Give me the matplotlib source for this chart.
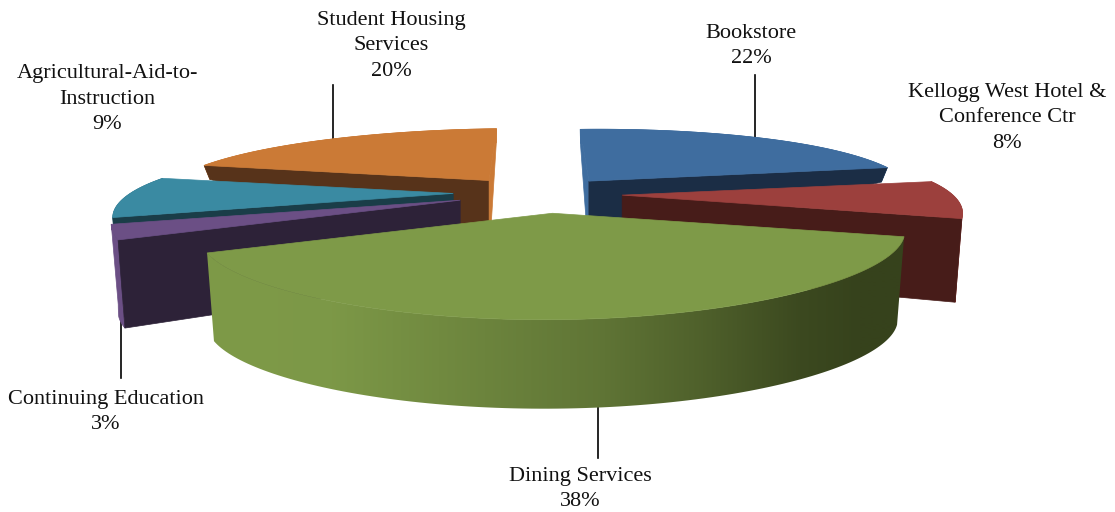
import matplotlib
matplotlib.use("Agg")
import matplotlib.pyplot as plt
import numpy as np
from matplotlib.colors import to_rgb
from matplotlib.patches import Polygon

plt.rcParams['font.family'] = ['Liberation Serif', 'DejaVu Serif']

# data
categories = ["Bookstore", "Kellogg West Hotel &\nConference Ctr", "Dining Services",
              "Continuing Education", "Agricultural-Aid-to-\nInstruction", "Student Housing\nServices"]
shares = [22, 8, 38, 3, 9, 20]

# style, same order as the data
top_colors = ['#3f6d9f', '#9c403d', '#7e9a48', '#6b4f85', '#3a8aa2', '#cb7a36']
dark_colors = ['#1b2d45', '#471c19', '#36421c', '#2d2238', '#1a3d48', '#57331a']
arc_colors = ['#3f6d9f', '#9c403d', None, '#6b4f85', '#2e6f83', '#cb7a36']
radius_scale = [0.97, 1.005, 1.04, 1.03, 1.005, 0.985]
depth_scale = [1, 0.95, 1, 1, 1, 1]
nudge_x = [4, 5, 12, 4, 0, 0]
draw_order = [5, 0, 4, 1, 3, 2]
label_xy = [(751, 46), (1007, 118), (580, 489), (106, 412), (107, 99), (391, 46)]
leaders = [((755, 75), (755, 145)), ((598, 400), (598, 458)),
           ((121, 315), (121, 378)), ((333, 85), (333, 145))]

# camera of the pie, in pixels
cx, cy = 535, 194
rad_x, rad_y = 328, 71
persp_x, persp_y = 0.25, 0.32
explode = 0.25
apex_depth = 77
bottom_shrink = 0.98


def project(deg, r=1.0):
    a = np.radians(deg)
    u, v = r * np.sin(a), r * np.cos(a)
    return rad_x * u / (1 + persp_x * v), -rad_y * v / (1 + persp_y * v)


def rim(apex, deg, scale):
    # top edge of a slice, the back corners lean to the middle of the pie
    a = np.radians(deg)
    u, v = np.sin(a), np.cos(a)
    ox, oy = project(deg)
    lean = 0.8 * (apex[0] - cx) * (1 / (1 + persp_x * v) - 1) * np.clip(v, 0, 1) ** 2
    return ox * scale + lean, oy + 2 - 3 * u


def arc_depth(deg):
    return np.interp(np.cos(np.radians(deg)), [-1, -0.3, 0.19, 1], [89, 88, 14, 14])


def lit_shade(x):
    # the dining side gets darker to the right
    mix = np.interp(x, [208, 330, 600, 700, 800, 860], [0, 0.02, 0.42, 0.65, 0.92, 1])
    a, b = np.array(to_rgb(top_colors[2])), np.array(to_rgb(dark_colors[2]))
    return a[None, :] + (b - a)[None, :] * mix[:, None]


def cut_face(ax, apex, deg, scale, deep, color, z):
    ox, oy = rim(apex, deg, scale)
    d = arc_depth(deg) * deep
    pts = [(apex[0] + ox, apex[1] + oy), apex, (apex[0], apex[1] + apex_depth),
           (apex[0] + ox * bottom_shrink, apex[1] + oy + d)]
    ax.add_patch(Polygon(pts, closed=True, fc=color, ec=color, lw=0.5, zorder=z))


fig = plt.figure(figsize=(11.15, 5.12), dpi=100, facecolor='white')
ax = fig.add_axes([0, 0, 1, 1])

for start, end in leaders:
    ax.plot([start[0], end[0]], [start[1], end[1]], color='black', lw=1.2, zorder=1)

edges = np.concatenate([[0], np.cumsum(shares)]) * 3.6

for rank, i in enumerate(draw_order):
    z = 2 + rank
    t0, t1 = edges[i], edges[i + 1]
    ex, ey = project((t0 + t1) / 2, explode)
    apex = (cx + ex + nudge_x[i], cy + ey)
    ts = np.linspace(t0, t1, 120)
    ox, oy = rim(apex, ts, radius_scale[i])
    x_top = apex[0] + ox
    y_top = apex[1] + oy
    x_bot = apex[0] + ox * bottom_shrink
    y_bot = y_top + arc_depth(ts) * depth_scale[i]
    side = list(zip(x_top, y_top)) + list(zip(x_bot[::-1], y_bot[::-1]))

    if arc_colors[i] is None:
        # smooth gradient, clipped to the outer side
        xs = np.arange(int(x_top.min()) - 10, int(x_top.max()) + 10)
        img = lit_shade(xs)[None, :, :]
        im = ax.imshow(img, extent=[xs[0], xs[-1], y_bot.max() + 2, y_top.min() - 2],
                       aspect='auto', interpolation='bilinear', zorder=z)
        clip = Polygon(side, closed=True, transform=ax.transData)
        im.set_clip_path(clip)
    else:
        ax.add_patch(Polygon(side, closed=True, fc=arc_colors[i], ec=arc_colors[i], lw=0.5, zorder=z))

    # only the cut faces that turn towards the viewer
    for deg, normal in [(t0, t0 - 90), (t1, t1 + 90)]:
        c = np.cos(np.radians(normal))
        if c < -1e-6:
            cut_face(ax, apex, deg, radius_scale[i], depth_scale[i], dark_colors[i], z)
        elif abs(c) <= 1e-6:
            cut_face(ax, apex, deg, radius_scale[i], depth_scale[i], top_colors[i], z)

    pts = [apex] + list(zip(x_top, y_top))
    ax.add_patch(Polygon(pts, closed=True, fc=top_colors[i], ec=top_colors[i], lw=0.5, zorder=z))

for name, share, (lx, ly) in zip(categories, shares, label_xy):
    ax.text(lx, ly, f"{name}\n{share}%", ha='center', va='center', fontsize=16,
            linespacing=1.47, color='#111111', zorder=20)

ax.set_xlim(0, 1115)
ax.set_ylim(512, 0)
ax.axis('off')

fig.savefig('out.png', dpi=100, facecolor='white')
